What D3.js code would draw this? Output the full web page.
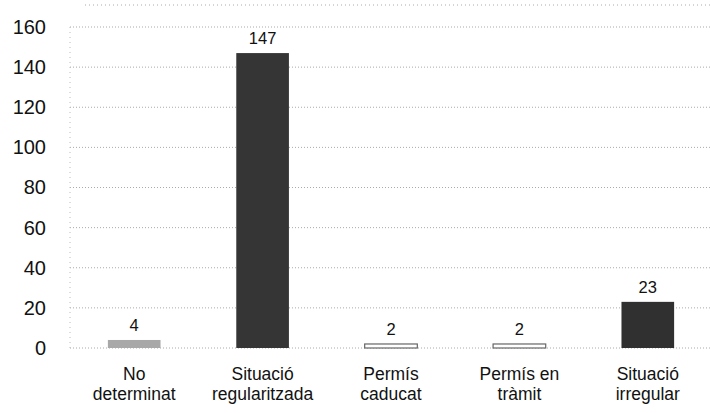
<!DOCTYPE html>
<html>
<head>
<meta charset="utf-8">
<script src="https://cdn.jsdelivr.net/npm/d3@7"></script>
<style>
  body { margin: 0; background: #fff; }
  text { font-family: "Liberation Sans", Arial, sans-serif; fill: #111; }
</style>
</head>
<body>
<div id="chart"></div>
<script>
const categories = ["No determinat", "Situació regularitzada", "Permís caducat", "Permís en tràmit", "Situació irregular"];
const labelLines = [["No", "determinat"], ["Situació", "regularitzada"], ["Permís", "caducat"], ["Permís en", "tràmit"], ["Situació", "irregular"]];
const values = [4, 147, 2, 2, 23];
const yTicks = [0, 20, 40, 60, 80, 100, 120, 140, 160];
const barFills = ["#a8a8a8", "#353535", "#ffffff", "#ffffff", "#303030"];

const W = 710, H = 413;
const svg = d3.select("#chart").append("svg")
  .attr("width", W).attr("height", H);

// scales
const x = d3.scaleBand()
  .domain(categories)
  .range([70, 712])
  .paddingInner(0.59)
  .paddingOuter(0.295);

const y = d3.scaleLinear()
  .domain([0, 160])
  .range([348, 27]);

// dotted gridlines
svg.append("g")
  .selectAll("line")
  .data(yTicks)
  .join("line")
    .attr("x1", 70).attr("x2", 710)
    .attr("y1", d => y(d)).attr("y2", d => y(d))
    .attr("stroke", "#aaa")
    .attr("stroke-width", 1)
    .attr("stroke-dasharray", "1,2");

// top frame line + left frame
svg.append("line")
  .attr("x1", 85).attr("x2", 710).attr("y1", 5).attr("y2", 5)
  .attr("stroke", "#aaa").attr("stroke-dasharray", "1,3");
svg.append("line")
  .attr("x1", 70).attr("x2", 70).attr("y1", y(160)).attr("y2", y(0))
  .attr("stroke", "#bbb").attr("stroke-dasharray", "1,4");

// y axis labels
const yAxis = svg.append("g")
  .attr("transform", "translate(62,0)")
  .call(d3.axisLeft(y).tickValues(yTicks).tickSize(0).tickPadding(16));
yAxis.select(".domain").remove();
yAxis.selectAll("text")
  .attr("font-size", 20)
  .attr("font-family", "Liberation Sans, Arial, sans-serif")
  .attr("fill", "#111");

// bars
svg.append("g")
  .selectAll("rect")
  .data(values)
  .join("rect")
    .attr("x", (d, i) => x(categories[i]))
    .attr("y", d => y(d))
    .attr("width", x.bandwidth())
    .attr("height", d => y(0) - y(d))
    .attr("fill", (d, i) => barFills[i])
    .attr("stroke", (d, i) => barFills[i] === "#ffffff" ? "#666" : "none")
    .attr("stroke-width", 1.2);

// value labels
svg.append("g")
  .selectAll("text")
  .data(values)
  .join("text")
    .attr("x", (d, i) => x(categories[i]) + x.bandwidth() / 2)
    .attr("y", d => y(d) - 9)
    .attr("text-anchor", "middle")
    .attr("font-size", 16.5)
    .text(d => d);

// category labels
const cat = svg.append("g")
  .selectAll("text")
  .data(labelLines)
  .join("text")
    .attr("x", (d, i) => x(categories[i]) + x.bandwidth() / 2)
    .attr("y", 380)
    .attr("text-anchor", "middle")
    .attr("font-size", 17.5);
cat.selectAll("tspan")
  .data(d => d)
  .join("tspan")
    .attr("x", function() { return d3.select(this.parentNode).attr("x"); })
    .attr("dy", (d, j) => j === 0 ? 0 : 20)
    .text(d => d);
</script>
</body>
</html>
